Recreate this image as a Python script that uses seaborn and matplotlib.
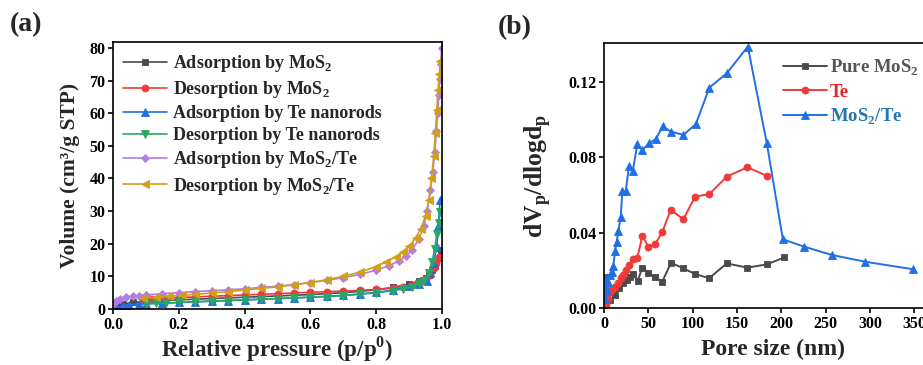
import matplotlib
matplotlib.use("Agg")
import matplotlib.pyplot as plt
import seaborn as sns
import pandas as pd

# ---------------- data: panel (a) isotherms ----------------
ads_mos2_x = [0.01, 0.03, 0.06, 0.1, 0.15, 0.2, 0.25, 0.3, 0.35, 0.4, 0.45, 0.5, 0.55, 0.6, 0.65,
              0.7, 0.75, 0.8, 0.85, 0.9, 0.93, 0.95, 0.96, 0.97, 0.98, 0.99, 0.998]
ads_mos2_y = [0.8, 1.5, 2.0, 2.3, 2.6, 2.8, 3.0, 3.2, 3.4, 3.6, 3.8, 4.0, 4.2, 4.4, 4.7,
              5.0, 5.4, 5.9, 6.6, 7.6, 8.6, 9.6, 10.4, 11.8, 13.2, 15.5, 18.2]

des_mos2_x = [0.09, 0.12, 0.15, 0.2, 0.25, 0.3, 0.35, 0.4, 0.45, 0.5, 0.55, 0.6, 0.65, 0.7, 0.75,
              0.8, 0.85, 0.88, 0.91, 0.93, 0.95, 0.963, 0.975, 0.983, 0.99]
des_mos2_y = [3.0, 3.1, 3.3, 3.5, 3.7, 3.9, 4.1, 4.3, 4.5, 4.7, 4.9, 5.1, 5.3, 5.5, 5.7,
              6.0, 6.4, 6.8, 7.4, 8.2, 9.2, 10.4, 12.5, 14.0, 15.8]

ads_te_x = [0.01, 0.03, 0.05, 0.08, 0.1, 0.15, 0.2, 0.25, 0.3, 0.35, 0.4, 0.45, 0.5, 0.55, 0.6,
            0.65, 0.7, 0.75, 0.8, 0.85, 0.9, 0.93, 0.953, 0.965, 0.974, 0.984, 0.989, 0.994]
ads_te_y = [0.5, 1.0, 1.3, 1.5, 1.6, 1.8, 2.0, 2.2, 2.4, 2.6, 2.8, 3.0, 3.2, 3.4, 3.6,
            3.9, 4.2, 4.6, 5.1, 5.8, 6.9, 7.8, 8.6, 11.0, 14.0, 19.0, 25.5, 33.4]

des_te_x = [0.1, 0.13, 0.16, 0.2, 0.25, 0.3, 0.35, 0.4, 0.45, 0.5, 0.55, 0.6, 0.65, 0.7, 0.75,
            0.8, 0.85, 0.88, 0.91, 0.93, 0.945, 0.96, 0.97, 0.978, 0.984, 0.99, 0.995]
des_te_y = [1.6, 1.7, 1.8, 2.0, 2.2, 2.4, 2.6, 2.8, 3.0, 3.2, 3.4, 3.6, 3.8, 4.1, 4.5,
            5.0, 5.6, 6.1, 6.8, 7.6, 8.6, 11.0, 14.5, 18.5, 23.0, 26.5, 29.8]

ads_comp_x = [0.002, 0.01, 0.02, 0.04, 0.06, 0.08, 0.1, 0.15, 0.2, 0.25, 0.3, 0.35, 0.4, 0.45,
              0.5, 0.55, 0.6, 0.65, 0.7, 0.75, 0.8, 0.84, 0.87, 0.89, 0.91, 0.93, 0.945, 0.955,
              0.965, 0.972, 0.978, 0.983, 0.987, 0.99, 0.993, 0.996, 0.999]
ads_comp_y = [1.7, 2.6, 3.1, 3.6, 3.9, 4.1, 4.3, 4.7, 5.0, 5.3, 5.6, 5.9, 6.2, 6.6,
              7.0, 7.5, 8.1, 8.8, 9.6, 10.6, 11.9, 13.3, 14.8, 16.2, 18.2, 21.5, 25.5, 30.0,
              36.5, 42.0, 48.0, 54.5, 60.0, 65.5, 70.5, 75.0, 80.0]

des_comp_x = [0.09, 0.13, 0.17, 0.21, 0.25, 0.3, 0.35, 0.4, 0.45, 0.5, 0.55, 0.6, 0.65, 0.7,
              0.75, 0.8, 0.83, 0.86, 0.88, 0.9, 0.92, 0.935, 0.95, 0.96, 0.968, 0.975, 0.98,
              0.984, 0.988, 0.992, 0.995]
des_comp_y = [3.3, 3.6, 3.9, 4.2, 4.5, 4.9, 5.3, 5.8, 6.3, 6.8, 7.4, 8.1, 9.0, 10.0,
              11.3, 13.0, 14.5, 16.0, 17.5, 19.3, 21.8, 24.5, 28.5, 33.5, 40.0, 47.0, 54.0,
              61.0, 67.0, 72.0, 76.0]

# ---------------- data: panel (b) pore size distribution ----------------
pure_x = [1.0, 3.0, 6.8, 12.4, 17.3, 21.8, 25.6, 29.3, 33.1, 38.0, 43.3, 50.0, 57.6, 65.8,
          75.6, 89.5, 102.7, 118.5, 138.5, 161.8, 183.6, 203.5]
pure_y = [0.0166, 0.005, 0.0042, 0.0069, 0.0104, 0.0131, 0.0148, 0.0166, 0.018, 0.0145,
          0.0214, 0.0188, 0.0163, 0.014, 0.024, 0.021, 0.018, 0.0158, 0.0236, 0.0214,
          0.0231, 0.0268]

te_x = [1.0, 2.5, 4.0, 6.8, 9.5, 12.4, 15.5, 18.8, 21.8, 24.5, 28.2, 32.4, 37.6, 43.3, 50.0,
        57.6, 65.8, 75.3, 89.5, 102.7, 118.9, 138.5, 161.8, 183.6]
te_y = [0.0005, 0.002, 0.005, 0.0085, 0.010, 0.011, 0.0135, 0.016, 0.0175, 0.020, 0.0228,
        0.0258, 0.0267, 0.0383, 0.0325, 0.0337, 0.0404, 0.052, 0.047, 0.059, 0.0604,
        0.0696, 0.0746, 0.070]

comp_x = [0.8, 1.5, 2.5, 3.5, 5.0, 6.8, 8.5, 10.5, 12.4, 14.3, 16.2, 18.8, 20.7, 24.5, 28.2,
          32.4, 37.6, 43.3, 50.8, 58.4, 66.2, 75.3, 89.5, 103.5, 118.9, 138.5, 162.2, 183.6,
          201.7, 225.7, 257.0, 294.6, 349.0]
comp_y = [0.005, 0.012, 0.016, 0.009, 0.014, 0.0175, 0.019, 0.022, 0.030, 0.035, 0.041,
          0.048, 0.062, 0.062, 0.075, 0.0726, 0.0867, 0.0837, 0.0873, 0.0895, 0.0962,
          0.0935, 0.0917, 0.0974, 0.1168, 0.1244, 0.1385, 0.0873, 0.0364, 0.0325, 0.0281,
          0.0245, 0.0205]

a_xticks = [0.0, 0.2, 0.4, 0.6, 0.8, 1.0]
a_yticks = [0, 10, 20, 30, 40, 50, 60, 70, 80]
b_xticks = [0, 50, 100, 150, 200, 250, 300, 350]
b_yticks = [0.00, 0.04, 0.08, 0.12]

# ---------------- style ----------------
sns.set_theme(style="ticks")
plt.rcParams["font.family"] = ["Liberation Serif", "DejaVu Serif"]
plt.rcParams["font.weight"] = "bold"
plt.rcParams["axes.labelweight"] = "bold"
plt.rcParams["mathtext.fontset"] = "custom"
plt.rcParams["mathtext.rm"] = "Liberation Serif:bold"
plt.rcParams["mathtext.bf"] = "Liberation Serif:bold"
plt.rcParams["axes.linewidth"] = 1.2
plt.rcParams["axes.edgecolor"] = "black"

GRAY = "#4a4a4a"
RED = "#f03a3a"
BLUE = "#1f6fe5"
GREEN = "#2aa763"
PURPLE = "#b37ce6"
GOLD = "#d2a014"

fig = plt.figure(figsize=(9.23, 3.65), dpi=100)
axA = fig.add_axes([113 / 923, 56 / 365, 329 / 923, 267 / 365])
axB = fig.add_axes([604 / 923, 57 / 365, 321 / 923, 265 / 365])

def draw(ax, x, y, color, marker, label, ms, lw=1.2):
    df = pd.DataFrame({"x": x, "y": y})
    sns.lineplot(data=df, x="x", y="y", ax=ax, color=color, marker=marker, markersize=ms,
                 markeredgecolor=color, markeredgewidth=0.6, linewidth=lw, label=label,
                 sort=False, estimator=None)

draw(axA, ads_mos2_x, ads_mos2_y, GRAY, "s", r"Adsorption by MoS$_\mathregular{2}$", 5)
draw(axA, des_mos2_x, des_mos2_y, RED, "o", r"Desorption by MoS$_\mathregular{2}$", 5)
draw(axA, ads_te_x, ads_te_y, BLUE, "^", "Adsorption by Te nanorods", 5.2)
draw(axA, des_te_x, des_te_y, GREEN, "v", "Desorption by Te nanorods", 5.2)
draw(axA, ads_comp_x, ads_comp_y, PURPLE, "D", r"Adsorption by MoS$_\mathregular{2}$/Te", 4.3)
draw(axA, des_comp_x, des_comp_y, GOLD, "<", r"Desorption by MoS$_\mathregular{2}$/Te", 5.2)

axA.set_xlim(0, 1.0)
axA.set_ylim(0, 81.8)
axA.set_xticks(a_xticks)
axA.set_xticklabels([f"{v:.1f}" for v in a_xticks])
axA.set_yticks(a_yticks)
axA.set_xlabel(r"Relative pressure (p/p$^\mathregular{0}$)", fontsize=16.5, labelpad=1)
axA.set_ylabel("Volume (cm³/g STP)", fontsize=15.5, labelpad=7)
axA.tick_params(labelsize=11.5, length=3.5, width=1.2, colors="black", pad=2)
axA.legend(loc="upper left", bbox_to_anchor=(0.009, 0.985), frameon=False, fontsize=13,
           handlelength=2.45, handletextpad=0.3, labelspacing=0.28, borderaxespad=0.0)
for s in axA.spines.values():
    s.set_visible(True)
    s.set_color("black")

draw(axB, pure_x, pure_y, GRAY, "s", r"Pure MoS$_\mathregular{2}$", 4.6, 1.4)
draw(axB, te_x, te_y, RED, "o", "Te", 5, 1.4)
draw(axB, comp_x, comp_y, BLUE, "^", r"MoS$_\mathregular{2}$/Te", 5.2, 1.4)

axB.set_xlim(0, 362)
axB.set_ylim(0, 0.1404)
axB.set_xticks(b_xticks)
axB.set_yticks(b_yticks)
axB.set_yticklabels([f"{v:.2f}" for v in b_yticks])
axB.set_xlabel("Pore size (nm)", fontsize=17, labelpad=2)
axB.xaxis.set_label_coords(0.526, -0.115)
axB.set_ylabel(r"dV$_\mathregular{p}$/dlogd$_\mathregular{p}$", fontsize=18.5, labelpad=11)
axB.tick_params(labelsize=11.5, length=3.5, width=1.2, colors="black", pad=2)
legB = axB.legend(loc="upper left", bbox_to_anchor=(0.534, 0.972), frameon=False, fontsize=13.5,
                  handlelength=2.35, handletextpad=0.15, labelspacing=0.3, borderaxespad=0.0)
for txt, c in zip(legB.get_texts(), ["#555555", "#ee2222", "#1f77b4"]):
    txt.set_color(c)
for s in axB.spines.values():
    s.set_visible(True)
    s.set_color("black")

fig.text(26 / 923, 1 - 25 / 365, "(a)", fontsize=20, fontweight="bold", ha="center", va="center")
fig.text(515 / 923, 1 - 28 / 365, "(b)", fontsize=20, fontweight="bold", ha="center", va="center")

fig.savefig("out.png", dpi=100)
